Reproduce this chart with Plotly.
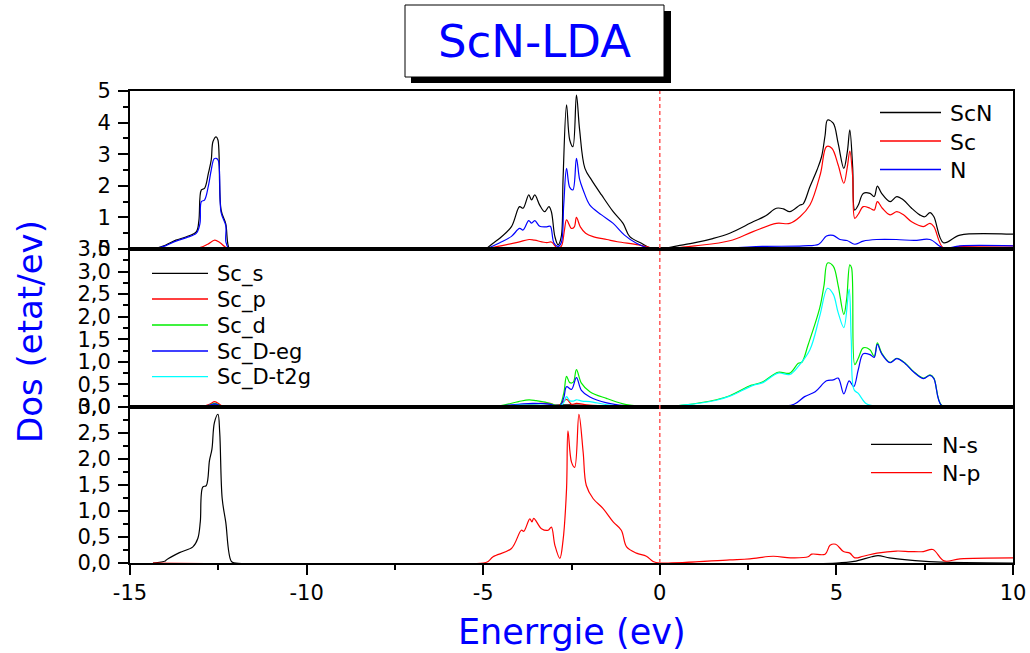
import plotly.graph_objects as go
from plotly.subplots import make_subplots

# ---------------- data ----------------
# top panel: total DOS
scn_E = [-14.35, -14.0, -13.7, -13.4, -13.12, -13.05, -12.98, -12.89, -12.78, -12.70, -12.65, -12.56, -12.51,
         -12.42, -12.29, -12.18, -12.0, -5.0, -4.91, -4.7, -4.53, -4.20, -3.97, -3.87, -3.71, -3.63, -3.54, -3.40,
         -3.26, -3.14, -3.07, -2.97, -2.88, -2.79, -2.74, -2.64, -2.55, -2.46, -2.36, -2.27, -2.12, -1.93, -1.65,
         -1.32, -1.04, -0.85, -0.52, -0.28, 0.0, 0.5, 1.0, 1.5, 1.98, 2.64, 3.0, 3.30, 3.5, 3.68, 3.97, 4.06, 4.25,
         4.45, 4.58, 4.68, 4.75, 4.91, 5.05, 5.21, 5.31, 5.38, 5.46, 5.52, 5.62, 5.76, 5.95, 6.07, 6.16, 6.28, 6.52,
         6.71, 6.9, 7.13, 7.36, 7.5, 7.65, 7.76, 8.03, 8.5, 9.9, 10.0]
scn_V = [0, 0.12, 0.28, 0.39, 0.55, 0.9, 1.87, 1.92, 2.4, 2.82, 3.40, 3.55, 3.45,
         1.23, 0.8, 0.0, 0, 0, 0.02, 0.2, 0.34, 0.71, 1.34, 1.29, 1.71, 1.55, 1.71, 1.39,
         1.18, 1.34, 1.18, 0.39, 0.13, 0.39, 2.18, 4.56, 3.45, 3.24, 4.87, 3.77, 2.55, 2.18, 1.71,
         1.18, 0.81, 0.39, 0.18, 0.03, 0.0, 0.1, 0.2, 0.33, 0.5, 0.86, 1.05, 1.29, 1.27, 1.18, 1.39, 1.43, 1.97,
         2.5, 2.92, 3.6, 4.08, 3.98, 3.34, 2.55, 3.08, 3.77, 2.6, 1.23, 1.39, 1.76, 1.76, 1.66, 1.99, 1.76, 1.5,
         1.66, 1.55, 1.29, 1.08, 1.02, 1.15, 1.02, 0.2, 0.44, 0.47, 0.47]

sc_E = [-14.35, -13.5, -13.0, -12.8, -12.6, -12.45, -12.2, -5.0, -4.9, -4.5, -4.0, -3.7, -3.55, -3.2, -3.07,
        -2.9, -2.79, -2.7, -2.64, -2.5, -2.42, -2.36, -2.25, -2.1, -1.89, -1.5, -1.2, -0.6, -0.2, 0.0, 1.0, 1.98,
        2.64, 3.3, 3.68, 3.97, 4.25, 4.55, 4.72, 4.87, 5.05, 5.21, 5.31, 5.38, 5.46, 5.52, 5.62, 5.76, 5.95, 6.07,
        6.16, 6.3, 6.52, 6.71, 6.9, 7.13, 7.46, 7.65, 7.76, 8.03, 8.5, 10.0]
sc_V = [0, 0.01, 0.05, 0.15, 0.28, 0.2, 0, 0, 0.01, 0.1, 0.22, 0.3, 0.28, 0.2, 0.22,
        0.03, 0.08, 0.6, 0.92, 0.65, 0.7, 1.0, 0.7, 0.5, 0.39, 0.3, 0.23, 0.13, 0.03, 0, 0.1, 0.26,
        0.55, 0.81, 0.81, 1.02, 1.39, 2.39, 3.24, 3.19, 2.66, 2.08, 2.6, 3.1, 2.3, 0.97, 1.1, 1.34, 1.29, 1.23,
        1.5, 1.29, 1.08, 1.18, 1.08, 0.86, 0.71, 0.81, 0.71, 0.03, 0.08, 0.1]

n_E = [-14.35, -14.0, -13.7, -13.4, -13.12, -13.02, -12.98, -12.89, -12.78, -12.70, -12.62, -12.56, -12.5,
       -12.42, -12.29, -12.18, -5.0, -4.9, -4.53, -4.2, -3.97, -3.87, -3.71, -3.63, -3.54, -3.40, -3.2, -3.1,
       -3.0, -2.88, -2.79, -2.72, -2.64, -2.55, -2.46, -2.36, -2.27, -2.17, -1.98, -1.65, -1.32, -1.0, -0.66,
       -0.3, 0.0, 2.0, 2.9, 4.06, 4.5, 4.72, 4.91, 5.1, 5.3, 5.52, 5.76, 6.14, 6.7, 7.2, 7.65, 8.03, 8.5, 10.0]
n_V = [0, 0.1, 0.25, 0.36, 0.5, 0.8, 1.5, 1.55, 2.0, 2.5, 2.85, 2.87, 2.8,
       1.15, 0.75, 0, 0, 0.02, 0.2, 0.4, 0.65, 0.6, 0.9, 0.82, 0.9, 0.72, 0.7, 0.72,
       0.2, 0.08, 0.2, 1.4, 2.55, 1.95, 1.87, 2.87, 2.2, 1.87, 1.39, 1.08, 0.81, 0.44, 0.18,
       0.02, 0, 0.03, 0.08, 0.1, 0.15, 0.41, 0.43, 0.3, 0.27, 0.15, 0.25, 0.3, 0.3, 0.27, 0.3, 0.03, 0.1, 0.1]

# middle panel: Sc partial DOS
scs_E = [-14.35, -13.0, -12.6, -12.3, -5.0, -2.64, -2.36, 0.0, 5.0, 10.0]
scs_V = [0, 0, 0.05, 0, 0, 0.05, 0.04, 0, 0.02, 0.02]

scp_E = [-14.35, -13.0, -12.75, -12.6, -12.45, -12.3, -5.0, -4.0, -3.1, -2.9, -2.64, -2.5, -2.36, -2.0, -1.0,
         0.0, 4.0, 5.0, 8.0, 10.0]
scp_V = [0, 0.01, 0.06, 0.12, 0.05, 0, 0, 0.03, 0.08, 0.01, 0.17, 0.06, 0.08, 0.04, 0.02,
         0, 0.02, 0.03, 0.02, 0.02]

scd_E = [-14.35, -13.0, -12.75, -12.6, -12.45, -12.3, -5.0, -4.5, -4.0, -3.7, -3.5, -3.2, -3.0, -2.85, -2.72,
         -2.64, -2.55, -2.45, -2.36, -2.22, -1.98, -1.51, -1.04, -0.6, 0.0, 0.66, 1.6, 1.98, 2.55, 2.64, 2.92,
         3.35, 3.68, 3.92, 4.02, 4.2, 4.53, 4.65, 4.75, 4.91, 5.05, 5.21, 5.29, 5.38, 5.43, 5.52, 5.62, 5.76,
         5.95, 6.07, 6.16, 6.28, 6.52, 6.71, 6.95, 7.18, 7.46, 7.65, 7.76, 7.98, 8.5, 10.0]
scd_V = [0, 0.0, 0.04, 0.08, 0.03, 0, 0, 0.03, 0.12, 0.16, 0.14, 0.1, 0.05, 0.01, 0.3,
         0.68, 0.54, 0.55, 0.83, 0.53, 0.34, 0.19, 0.07, 0.02, 0, 0.04, 0.16, 0.25, 0.47, 0.49, 0.56,
         0.77, 0.75, 0.97, 0.99, 1.38, 2.2, 2.7, 3.19, 3.12, 2.69, 2.05, 2.39, 3.15, 3.08, 0.94, 1.08, 1.31,
         1.27, 1.12, 1.42, 1.2, 0.99, 1.08, 0.97, 0.79, 0.64, 0.71, 0.64, 0.04, 0.03, 0.03]

sceg_E = [-14.35, -13.0, -12.75, -12.6, -12.45, -12.3, -5.0, -4.0, -3.6, -3.1, -2.85, -2.72, -2.64, -2.5,
          -2.36, -2.22, -1.98, -1.5, -1.0, 0.0, 3.0, 3.8, 4.1, 4.4, 4.72, 4.91, 5.05, 5.21, 5.36, 5.49, 5.62,
          5.76, 5.95, 6.07, 6.16, 6.28, 6.52, 6.71, 6.95, 7.18, 7.46, 7.65, 7.76, 7.98, 8.5, 10.0]
sceg_V = [0, 0, 0.04, 0.07, 0.03, 0, 0, 0.06, 0.08, 0.06, 0.01, 0.2, 0.45, 0.39,
          0.65, 0.37, 0.22, 0.09, 0.03, 0, 0, 0.06, 0.23, 0.34, 0.58, 0.6, 0.64, 0.29, 0.58, 0.45, 0.83,
          1.18, 1.16, 1.1, 1.39, 1.18, 0.98, 1.07, 0.96, 0.78, 0.63, 0.7, 0.63, 0.03, 0.01, 0.01]

sct2g_E = [-14.35, -13.0, -12.6, -12.3, -5.0, -4.0, -3.6, -3.0, -2.85, -2.72, -2.64, -2.55, -2.45, -2.36, -2.2,
           -1.98, -1.5, -1.0, 0.0, 0.66, 1.6, 1.98, 2.64, 2.92, 3.35, 3.68, 3.92, 4.25, 4.53, 4.75, 4.91, 5.05,
           5.21, 5.36, 5.42, 5.5, 5.62, 5.85, 6.2, 10.0]
sct2g_V = [0, 0, 0.03, 0, 0, 0.04, 0.05, 0.02, 0, 0.1, 0.23, 0.14, 0.13, 0.16, 0.13,
           0.12, 0.05, 0.02, 0, 0.04, 0.15, 0.24, 0.48, 0.54, 0.75, 0.72, 0.9, 1.27, 2.02, 2.63, 2.5, 2.09,
           1.76, 2.61, 1.5, 0.38, 0.3, 0.07, 0.02, 0.02]

# bottom panel: N partial DOS
ns_E = [-14.35, -14.0, -13.97, -13.6, -13.22, -13.08, -13.01, -12.94, -12.84, -12.75, -12.68, -12.61, -12.51,
        -12.46, -12.39, -12.29, -12.13, -12.0, 5.0, 5.5, 6.0, 6.18, 6.5, 7.0, 7.8, 10.0]
ns_V = [0, 0.04, 0.06, 0.2, 0.31, 0.47, 0.79, 1.46, 1.49, 1.97, 2.19, 2.7, 2.86,
        2.51, 1.24, 0.79, 0.03, 0, 0, 0.03, 0.12, 0.14, 0.1, 0.06, 0.02, 0.0]

np_E = [-14.35, -5.0, -4.86, -4.72, -4.2, -3.92, -3.85, -3.68, -3.62, -3.57, -3.35, -3.16, -3.07, -2.97, -2.83,
        -2.74, -2.64, -2.6, -2.5, -2.41, -2.29, -2.17, -2.08, -1.89, -1.61, -1.32, -1.09, -0.94, -0.66, -0.38,
        -0.19, 0.0, 1.98, 2.55, 3.21, 3.7, 4.2, 4.3, 4.68, 4.82, 4.98, 5.2, 5.38, 5.52, 5.76, 6.15, 6.7, 7.1,
        7.46, 7.73, 8.05, 8.5, 10.0]
np_V = [0, 0, 0.03, 0.12, 0.28, 0.63, 0.61, 0.85, 0.79, 0.86, 0.66, 0.63, 0.69, 0.34, 0.09,
        0.43, 1.43, 2.54, 1.94, 1.84, 2.86, 2.13, 1.49, 1.24, 1.05, 0.79, 0.63, 0.31, 0.19, 0.13,
        0.03, 0, 0.06, 0.08, 0.13, 0.1, 0.12, 0.17, 0.17, 0.34, 0.36, 0.22, 0.19, 0.1, 0.13, 0.19, 0.23, 0.22,
        0.22, 0.26, 0.04, 0.08, 0.1]

x_ticks = [-15, -10, -5, 0, 5, 10]
top_ticks = [0, 1, 2, 3, 4, 5]
mid_ticks = [0, 0.5, 1.0, 1.5, 2.0, 2.5, 3.0, 3.5]
bot_ticks = [0, 0.5, 1.0, 1.5, 2.0, 2.5, 3.0]

top_names = ["ScN", "Sc", "N"]
mid_names = ["Sc_s", "Sc_p", "Sc_d", "Sc_D-eg", "Sc_D-t2g"]
bot_names = ["N-s", "N-p"]

# ---------------- figure ----------------
FONT = "DejaVu Sans"
BLACK, RED, GREEN, BLUE, CYAN = "#000000", "#ff0000", "#00ee00", "#0000ff", "#00ffff"
H_TOP, H_MID, H_BOT = 158, 158, 156
tot = H_TOP + H_MID + H_BOT
fig = make_subplots(rows=3, cols=1, shared_xaxes=True, vertical_spacing=0,
                    row_heights=[H_TOP / tot, H_MID / tot, H_BOT / tot])

lw = 1.2
def add(xs, ys, name, color, row):
    fig.add_trace(go.Scatter(x=xs, y=ys, mode="lines", name=name, line=dict(color=color, width=lw),
                             line_shape="spline", showlegend=False), row=row, col=1)

top_series = [(scn_E, scn_V, BLACK), (sc_E, sc_V, RED), (n_E, n_V, BLUE)]
mid_series = [(scs_E, scs_V, BLACK), (scp_E, scp_V, RED), (scd_E, scd_V, GREEN),
              (sceg_E, sceg_V, BLUE), (sct2g_E, sct2g_V, CYAN)]
bot_series = [(ns_E, ns_V, BLACK), (np_E, np_V, RED)]

for name, (xs, ys, c) in zip(top_names, top_series):
    add(xs, ys, name, c, 1)
for name, (xs, ys, c) in zip(mid_names, mid_series):
    add(xs, ys, name, c, 2)
for name, (xs, ys, c) in zip(bot_names, bot_series):
    add(xs, ys, name, c, 3)

# axes
for r in (1, 2, 3):
    fig.update_xaxes(range=[-15, 10], showgrid=False, zeroline=False, showline=True, linecolor="black",
                     linewidth=2, mirror=True, automargin=False, row=r, col=1)
fig.update_xaxes(showticklabels=False, ticks="", row=1, col=1)
fig.update_xaxes(showticklabels=False, ticks="", row=2, col=1)
fig.update_xaxes(tickvals=x_ticks, ticktext=[str(v) for v in x_ticks], ticks="outside", ticklen=10,
                 tickwidth=2, tickcolor="black", minor=dict(dtick=2.5, ticks="outside", ticklen=5, tickwidth=2,
                                                             tickcolor="black"),
                 tickfont=dict(family=FONT, size=21, color="black"), row=3, col=1)

def yfmt(v):
    return ("%.1f" % v).replace(".", ",")

yax_common = dict(showgrid=False, zeroline=False, showline=True, linecolor="black", linewidth=2, mirror=True,
                  ticks="outside", ticklen=10, tickwidth=2, tickcolor="black", automargin=False,
                  tickfont=dict(family=FONT, size=21, color="black"), ticklabelstandoff=3)
fig.update_yaxes(range=[0, 5], tickvals=top_ticks, ticktext=[str(v) for v in top_ticks],
                 minor=dict(dtick=0.5, ticks="outside", ticklen=5, tickwidth=2, tickcolor="black"),
                 row=1, col=1, **yax_common)
fig.update_yaxes(range=[0, 3.5], tickvals=mid_ticks, ticktext=[yfmt(v) for v in mid_ticks],
                 minor=dict(dtick=0.25, ticks="outside", ticklen=5, tickwidth=2, tickcolor="black"),
                 row=2, col=1, **yax_common)
fig.update_yaxes(range=[0, 3.0], tickvals=bot_ticks, ticktext=[yfmt(v) for v in bot_ticks],
                 minor=dict(dtick=0.25, ticks="outside", ticklen=5, tickwidth=2, tickcolor="black"),
                 row=3, col=1, **yax_common)

# Fermi level
fig.add_shape(type="line", xref="x3", yref="paper", x0=0, x1=0, y0=0, y1=1,
              line=dict(color="#ff5a5a", width=1.5, dash="4px,3px"))

# layout geometry
L, R, T, B = 130, 17, 91, 90
W, Hh = 1030, 653
pw, ph = W - L - R, Hh - T - B
def px(x):
    return (x - L) / pw
def py(y):
    return (Hh - B - y) / ph

fig.update_layout(width=W, height=Hh, margin=dict(l=L, r=R, t=T, b=B, autoexpand=False),
                  paper_bgcolor="white", plot_bgcolor="white", showlegend=False)

# legends (drawn as line samples + text)
def legend_block(names, colors, x0, x1, xt, ys, size):
    for n, c, y in zip(names, colors, ys):
        fig.add_shape(type="line", xref="paper", yref="paper", x0=px(x0), x1=px(x1), y0=py(y), y1=py(y),
                      line=dict(color=c, width=1.3))
        fig.add_annotation(xref="paper", yref="paper", x=px(xt), y=py(y + 1), text=n, showarrow=False,
                           xanchor="left", yanchor="middle", font=dict(family=FONT, size=size, color="black"))

legend_block(top_names, [s[2] for s in top_series], 880, 941, 948, [112.5, 141, 169.5], 22)
legend_block(mid_names, [s[2] for s in mid_series], 152, 208, 215, [273.3, 299, 325, 351, 376.7], 21)
legend_block(bot_names, [s[2] for s in bot_series], 871, 932, 940, [444.3, 472.7], 22)

# title box with shadow
fig.add_shape(type="rect", xref="paper", yref="paper", x0=px(411), x1=px(671), y0=py(83), y1=py(11),
              fillcolor="black", line=dict(width=0), layer="above")
fig.add_shape(type="rect", xref="paper", yref="paper", x0=px(405), x1=px(664), y0=py(77), y1=py(5),
              fillcolor="white", line=dict(color="black", width=1), layer="above")
fig.add_annotation(xref="paper", yref="paper", x=px(534), y=py(41), text="ScN-LDA", showarrow=False,
                   font=dict(family=FONT, size=45, color="#0000ff"), xanchor="center", yanchor="middle")

# axis titles
fig.add_annotation(xref="paper", yref="paper", x=px(30), y=py(332), text="Dos (etat/ev)", showarrow=False,
                   textangle=-90, font=dict(family=FONT, size=34, color="#0000ff"),
                   xanchor="center", yanchor="middle")
fig.add_annotation(xref="paper", yref="paper", x=px(572), y=py(632), text="Enerrgie (ev)", showarrow=False,
                   font=dict(family=FONT, size=35, color="#0000ff"), xanchor="center", yanchor="middle")

fig.write_html("out.html")
